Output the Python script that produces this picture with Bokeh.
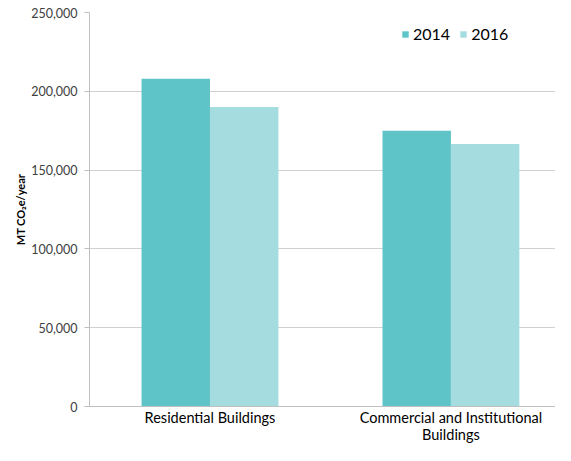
import numpy as np
from bokeh.plotting import figure
from bokeh.models import (ColumnDataSource, Range1d, FixedTicker, NumeralTickFormatter,
                          Legend, LegendItem, LinearAxis)
from bokeh.embed import file_html
from bokeh.resources import INLINE

categories = ["Residential Buildings", "Commercial and Institutional Buildings"]
label_line1 = ["Residential Buildings", "Commercial and Institutional"]
label_line2 = ["", "Buildings"]
series_names = ["2014", "2016"]
values_2014 = [208000, 175000]
values_2016 = [190000, 166500]
y_ticks = [0, 50000, 100000, 150000, 200000, 250000]

colors = ["#5EC4C7", "#A4DCE0"]
FONT = "Lato"

centers = np.arange(len(categories)) + 0.5
bw = 0.284
src = ColumnDataSource(dict(x1=centers - bw / 2, x2=centers + bw / 2,
                            v2014=values_2014, v2016=values_2016))

p = figure(x_range=Range1d(0, 1.934), y_range=Range1d(0, 250000),
           width=555, height=445, output_backend="svg", toolbar_location=None,
           min_border_left=89, min_border_top=12, min_border_right=0, min_border_bottom=0)
p.outline_line_color = None
p.background_fill_color = "white"
p.border_fill_color = "white"

r1 = p.vbar(x="x1", top="v2014", width=bw, source=src, fill_color=colors[0], line_color=None)
r2 = p.vbar(x="x2", top="v2016", width=bw, source=src, fill_color=colors[1], line_color=None)

# y axis
p.yaxis.ticker = FixedTicker(ticks=y_ticks)
p.yaxis.formatter = NumeralTickFormatter(format="0,0")
p.yaxis.axis_label = "MT CO\u2082e/year"
p.yaxis.axis_label_text_font = FONT
p.yaxis.axis_label_text_font_style = "bold"
p.yaxis.axis_label_text_font_size = "11px"
p.yaxis.axis_label_text_color = "#000000"
p.yaxis.axis_label_standoff = 1
p.yaxis.major_label_text_font = FONT
p.yaxis.major_label_text_font_size = "12.5px"
p.yaxis.major_label_text_color = "#404040"
p.yaxis.major_label_standoff = 7
p.yaxis.axis_line_color = "#BFBFBF"
p.yaxis.major_tick_line_color = "#BFBFBF"
p.yaxis.major_tick_in = 0
p.yaxis.major_tick_out = 5
p.yaxis.minor_tick_line_color = None

# x axis, first label line
xa = p.xaxis[0]
xa.ticker = FixedTicker(ticks=list(centers))
xa.major_label_overrides = {float(c): t for c, t in zip(centers, label_line1)}
xa.axis_line_color = "#BFBFBF"
xa.major_tick_line_color = None
xa.major_tick_in = 0
xa.major_tick_out = 0
xa.minor_tick_line_color = None
xa.major_label_text_font = FONT
xa.major_label_text_font_size = "14.5px"
xa.major_label_text_color = "#000000"
xa.major_label_standoff = 2

# second label line
xa2 = LinearAxis(ticker=FixedTicker(ticks=list(centers)),
                 major_label_overrides={float(c): t for c, t in zip(centers, label_line2)},
                 axis_line_color=None, major_tick_line_color=None, major_tick_in=0,
                 major_tick_out=0, minor_tick_line_color=None, major_label_standoff=-3,
                 major_label_text_font=FONT, major_label_text_font_size="14.5px",
                 major_label_text_color="#000000")
p.add_layout(xa2, "below")

p.xgrid.grid_line_color = None
p.ygrid.grid_line_color = "#D0D0D0"
p.ygrid.ticker = FixedTicker(ticks=y_ticks)

legend = Legend(items=[LegendItem(label=series_names[0], renderers=[r1]),
                       LegendItem(label=series_names[1], renderers=[r2])],
                orientation="horizontal", location=(312, 363),
                border_line_color=None, background_fill_alpha=0,
                padding=0, margin=0, spacing=9, label_standoff=4,
                glyph_width=8, glyph_height=8,
                label_text_font=FONT, label_text_font_size="16px",
                label_text_color="#000000")
p.add_layout(legend, "center")

open("out.html", "w").write(file_html(p, INLINE))
